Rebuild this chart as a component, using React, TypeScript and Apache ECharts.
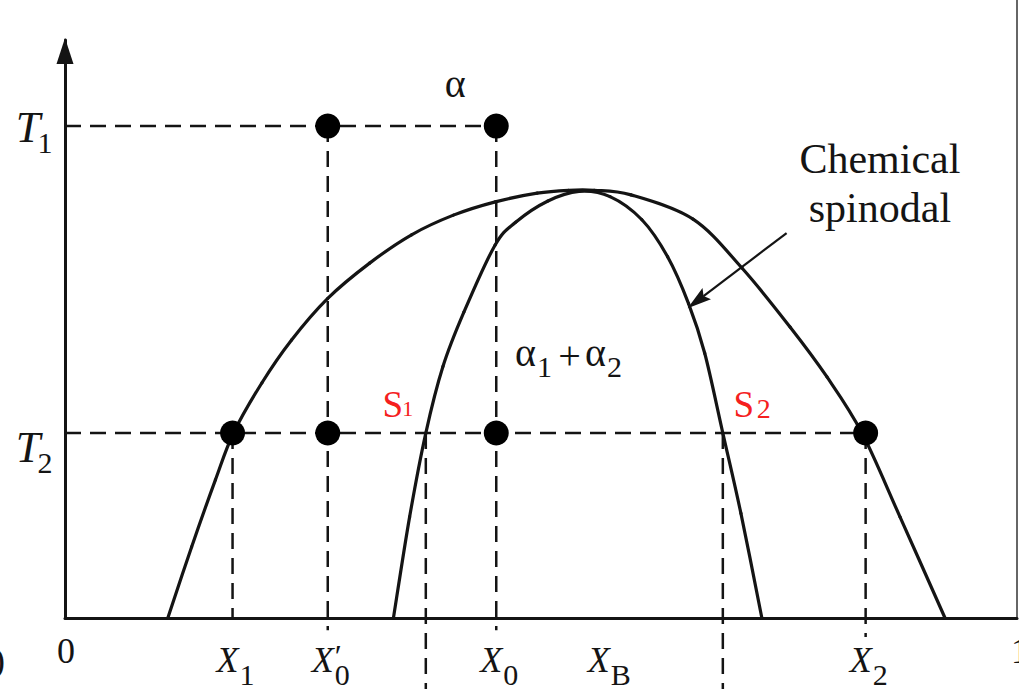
import React, { useEffect, useRef } from "react";
import * as echarts from "echarts";

// ---- key temperatures and compositions ----
const T1 = 85.1;
const T2 = 32.0;
const X1 = 0.176;
const X0_PRIME = 0.276;
const S1 = 0.379;
const X0 = 0.453;
const XB = 0.566;
const S2 = 0.691;
const X2 = 0.841;

// ---- miscibility gap (binodal) ----
const binodalX = [0.108, 0.133, 0.158, 0.177, 0.2069, 0.238, 0.276, 0.32, 0.364, 0.408, 0.452, 0.496, 0.529, 0.556, 0.5945, 0.6597, 0.7111, 0.7616, 0.8004, 0.8372, 0.8771, 0.9244];
const binodalT = [0, 12.3, 23.9, 32.0, 40.7, 48.1, 55.3, 61.4, 66.3, 69.7, 72.0, 73.5, 74.0, 74.0, 73.2, 69.0, 60.55, 50.35, 41.7, 32.0, 17.5, 0];

// ---- chemical spinodal ----
const spinodalX = [0.345, 0.362, 0.379, 0.397, 0.419, 0.4517, 0.4737, 0.5068, 0.54, 0.5725, 0.606, 0.633, 0.655, 0.672, 0.691, 0.71, 0.732];
const spinodalT = [0, 17.5, 32.0, 43.5, 52.9, 64.5, 68.5, 72.1, 73.8, 72.9, 68.9, 62.5, 54.4, 45.8, 32.0, 18.1, 0];

// ---- axis tick labels ----
const tickValues = [0, X1, X0_PRIME, X0, XB, X2, 1];
const tickSymbols = ["0", "X", "X", "X", "X", "X", "1"];
const tickSubscripts = ["", "1", "0", "0", "B", "2", ""];
const tickPrimes = ["", "", "′", "", "", "", ""];

const temperatureValues = [T1, T2];
const temperatureSubscripts = ["1", "2"];

// ---- state points (dots) ----
const stateX = [X0_PRIME, X0, X1, X0_PRIME, X0, X2];
const stateT = [T1, T1, T2, T2, T2, T2];

// ---- dashed guide lines ----
const guideStartX = [0, 0, X1, X0_PRIME, X0, S1, S2, X2];
const guideStartT = [T1, T2, T2, T1, T1, T2, T2, T2];
const guideEndX = [X0, X2, X1, X0_PRIME, X0, S1, S2, X2];
const guideEndT = [T1, T2, 0, -2.1, -2.1, -12.5, -12.5, -3.3];

// ---- spinodal points on T2 ----
const spinodalPointX = [S1, S2];
const spinodalPointSubs = ["1", "2"];

// ---- annotations ----
const alphaAnchor = [0.41, 91.7];
const twoPhaseAnchor = [0.53, 45.3];
const calloutAnchor = [0.856, 79.4];
const arrowFrom = [0.758, 66.6];
const arrowTo = [0.654, 53.6];

const INK = "#141414";
const RED = "#f5201e";
const FONT = "'Liberation Serif', 'Times New Roman', serif";

function txt(
  text: string,
  x: number,
  y: number,
  size: number,
  opts: { italic?: boolean; align?: string; fill?: string } = {}
) {
  const align = opts.align || "center";
  return {
    type: "text",
    x,
    y,
    style: {
      text,
      font: `${opts.italic ? "italic " : ""}${size}px ${FONT}`,
      fill: opts.fill || INK,
      align,
      textAlign: align,
      verticalAlign: "middle",
      textVerticalAlign: "middle",
    },
  };
}

// Each data point draws the Catmull-Rom (cubic Bezier) segment to the next point.
function curveSeries(name: string, xs: number[], ts: number[]) {
  return {
    type: "custom",
    name,
    z: 3,
    data: xs.map((x, i) => [x, ts[i]]),
    encode: { x: 0, y: 1 },
    renderItem: (params: any, api: any) => {
      const i = params.dataIndex;
      const n = xs.length;
      if (i >= n - 1) return null;
      const at = (k: number) => {
        const j = Math.max(0, Math.min(n - 1, k));
        return api.coord([xs[j], ts[j]]);
      };
      const p0 = at(i - 1);
      const p1 = at(i);
      const p2 = at(i + 1);
      const p3 = at(i + 2);
      const k = 1 / 6;
      return {
        type: "bezierCurve",
        shape: {
          x1: p1[0],
          y1: p1[1],
          x2: p2[0],
          y2: p2[1],
          cpx1: p1[0] + (p2[0] - p0[0]) * k,
          cpy1: p1[1] + (p2[1] - p0[1]) * k,
          cpx2: p2[0] - (p3[0] - p1[0]) * k,
          cpy2: p2[1] - (p3[1] - p1[1]) * k,
        },
        style: { stroke: INK, lineWidth: 3.2, fill: null, lineCap: "round" },
      };
    },
  };
}

export default function App() {
  const ref = useRef<HTMLDivElement | null>(null);

  useEffect(() => {
    if (!ref.current) return;
    const chart = echarts.init(ref.current, undefined, { renderer: "svg" });

    const option: any = {
      animation: false,
      backgroundColor: "#ffffff",
      grid: { left: 65, right: 2, top: 40, bottom: 71 },
      xAxis: {
        type: "value",
        min: 0,
        max: 1,
        axisLine: { show: true, onZero: false, lineStyle: { color: INK, width: 3 } },
        axisTick: { show: false },
        axisLabel: { show: false },
        splitLine: { show: false },
      },
      yAxis: {
        type: "value",
        min: 0,
        max: 100,
        axisLine: {
          show: true,
          onZero: false,
          symbol: ["none", "triangle"],
          symbolSize: [17, 26],
          symbolOffset: [0, -11],
          lineStyle: { color: INK, width: 3 },
        },
        axisTick: { show: false },
        axisLabel: { show: false },
        splitLine: { show: false },
      },
      graphic: [
        {
          type: "line",
          shape: { x1: 1017, y1: 0, x2: 1017, y2: 619 },
          style: { stroke: "#333", lineWidth: 1.5 },
        },
        {
          type: "text",
          x: -7,
          y: 660,
          style: {
            text: ")",
            font: `36px ${FONT}`,
            fill: INK,
            align: "left",
            textAlign: "left",
            verticalAlign: "middle",
            textVerticalAlign: "middle",
          },
        },
      ],
      series: [
        {
          type: "custom",
          name: "guides",
          z: 2,
          data: guideStartX.map((x, i) => [x, guideStartT[i], guideEndX[i], guideEndT[i]]),
          encode: { x: [0, 2], y: [1, 3] },
          renderItem: (params: any, api: any) => {
            const p0 = api.coord([api.value(0), api.value(1)]);
            const p1 = api.coord([api.value(2), api.value(3)]);
            return {
              type: "line",
              shape: { x1: p0[0], y1: p0[1], x2: p1[0], y2: p1[1] },
              style: { stroke: INK, lineWidth: 2.5, lineDash: [16, 9] },
            };
          },
        },
        curveSeries("binodal", binodalX, binodalT),
        curveSeries("chemical spinodal", spinodalX, spinodalT),
        {
          type: "scatter",
          name: "states",
          z: 5,
          data: stateX.map((x, i) => [x, stateT[i]]),
          symbol: "circle",
          symbolSize: 25,
          itemStyle: { color: "#000000", opacity: 1 },
        },
        {
          type: "custom",
          name: "x labels",
          z: 6,
          data: tickValues.map((v) => [v, 0]),
          encode: { x: 0, y: 1 },
          renderItem: (params: any, api: any) => {
            const i = params.dataIndex;
            const p = api.coord([api.value(0), api.value(1)]);
            const children: any[] = [];
            const sym = tickSymbols[i];
            if (sym === "X") {
              const edge = p[0] + 6;
              children.push(txt("X", edge, p[1] + 42, 36, { italic: true, align: "right" }));
              children.push(txt(tickSubscripts[i], edge + 1, p[1] + 56, 30, { align: "left" }));
              if (tickPrimes[i]) {
                children.push(txt(tickPrimes[i], edge + 1, p[1] + 38, 32, { align: "left" }));
              }
            } else {
              const dx = i === tickSymbols.length - 1 ? 3 : 1;
              children.push(txt(sym, p[0] + dx, p[1] + 33, 36));
            }
            return { type: "group", children };
          },
        },
        {
          type: "custom",
          name: "T labels",
          z: 6,
          data: temperatureValues.map((t) => [0, t]),
          encode: { x: 0, y: 1 },
          renderItem: (params: any, api: any) => {
            const i = params.dataIndex;
            const p = api.coord([api.value(0), api.value(1)]);
            const dy = i === 0 ? 1.5 : 14.5;
            return {
              type: "group",
              children: [
                txt("T", p[0] - 37, p[1] + dy, 44, { italic: true }),
                txt(temperatureSubscripts[i], p[0] - 20, p[1] + dy + 15, 30),
              ],
            };
          },
        },
        {
          type: "custom",
          name: "spinodal points",
          z: 6,
          data: spinodalPointX.map((x) => [x, T2]),
          encode: { x: 0, y: 1 },
          renderItem: (params: any, api: any) => {
            const i = params.dataIndex;
            const p = api.coord([api.value(0), api.value(1)]);
            const sx = i === 0 ? p[0] - 33 : p[0] + 21;
            return {
              type: "group",
              children: [
                txt("S", sx, p[1] - 29, 37, { fill: RED }),
                txt(spinodalPointSubs[i], sx + (i === 0 ? 15 : 20), p[1] - 24.5, i === 0 ? 22 : 28, { fill: RED }),
              ],
            };
          },
        },
        {
          type: "custom",
          name: "phase labels",
          z: 6,
          data: [alphaAnchor, twoPhaseAnchor, calloutAnchor],
          encode: { x: 0, y: 1 },
          renderItem: (params: any, api: any) => {
            const i = params.dataIndex;
            const p = api.coord([api.value(0), api.value(1)]);
            if (i === 0) {
              return txt("α", p[0], p[1] - 4, 40);
            }
            if (i === 1) {
              return {
                type: "group",
                children: [
                  txt("α", p[0] - 44, p[1] - 4, 40),
                  txt("1", p[0] - 25, p[1] + 10, 30),
                  txt("+", p[0], p[1] - 1, 40),
                  txt("α", p[0] + 26, p[1] - 4, 40),
                  txt("2", p[0] + 45, p[1] + 10, 30),
                ],
              };
            }
            return {
              type: "group",
              children: [
                txt("Chemical", p[0], p[1], 42),
                txt("spinodal", p[0], p[1] + 49, 42),
              ],
            };
          },
        },
        {
          type: "custom",
          name: "arrow",
          z: 6,
          data: [[arrowFrom[0], arrowFrom[1], arrowTo[0], arrowTo[1]]],
          encode: { x: [0, 2], y: [1, 3] },
          renderItem: (params: any, api: any) => {
            const a = api.coord([api.value(0), api.value(1)]);
            const b = api.coord([api.value(2), api.value(3)]);
            const dx = b[0] - a[0];
            const dy = b[1] - a[1];
            const len = Math.sqrt(dx * dx + dy * dy);
            const ux = dx / len;
            const uy = dy / len;
            const nx = -uy;
            const ny = ux;
            const headLen = 24;
            const headW = 7;
            const bx = b[0] - ux * headLen;
            const by = b[1] - uy * headLen;
            return {
              type: "group",
              children: [
                {
                  type: "line",
                  shape: { x1: a[0], y1: a[1], x2: bx + ux * 4, y2: by + uy * 4 },
                  style: { stroke: INK, lineWidth: 2.2 },
                },
                {
                  type: "polygon",
                  shape: {
                    points: [
                      [b[0], b[1]],
                      [bx + nx * headW, by + ny * headW],
                      [bx + ux * 4, by + uy * 4],
                      [bx - nx * headW, by - ny * headW],
                    ],
                  },
                  style: { fill: INK },
                },
              ],
            };
          },
        },
      ],
    };

    chart.setOption(option);
    return () => {
      chart.dispose();
    };
  }, []);

  return (
    <div
      ref={ref}
      style={{
        position: "fixed",
        left: 0,
        top: 0,
        width: 1019,
        height: 689,
        background: "#ffffff",
      }}
    />
  );
}
